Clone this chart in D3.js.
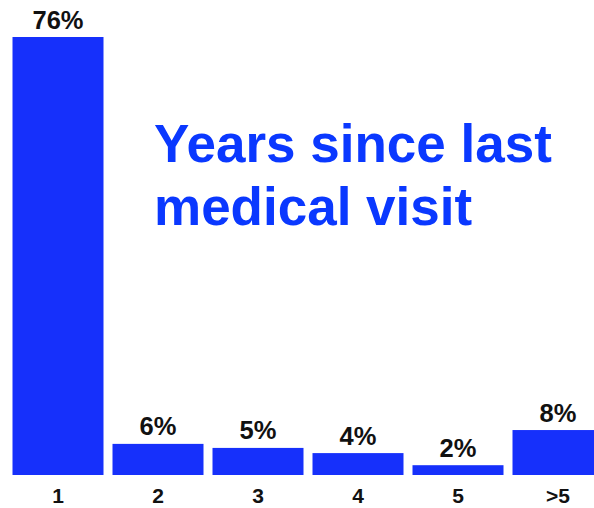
<!DOCTYPE html>
<html>
<head>
<meta charset="utf-8">
<script src="https://cdn.jsdelivr.net/npm/d3@7"></script>
<style>
  html, body { margin: 0; padding: 0; background: #fff; overflow: hidden; }
  svg { display: block; }
</style>
</head>
<body>
<svg id="chart" width="594" height="508"></svg>
<script>
const categories = ["1", "2", "3", "4", "5", ">5"];
const values = [76, 5.4, 4.7, 3.8, 1.7, 7.8];
const valueLabels = ["76%", "6%", "5%", "4%", "2%", "8%"];
const titleLines = ["Years since last", "medical visit"];

const svg = d3.select("#chart");
const font = "'Liberation Sans', Arial, Helvetica, sans-serif";

const x = d3.scaleBand()
  .domain(categories)
  .range([8, 608])
  .paddingInner(0.09)
  .paddingOuter(0.045);

const y = d3.scaleLinear()
  .domain([0, 76])
  .range([475, 37]);

const data = categories.map((c, i) => ({ c, v: values[i], label: valueLabels[i] }));

svg.selectAll("rect.bar")
  .data(data)
  .join("rect")
  .attr("class", "bar")
  .attr("x", d => x(d.c))
  .attr("width", x.bandwidth())
  .attr("y", d => y(d.v))
  .attr("height", d => y(0) - y(d.v))
  .attr("fill", "#1630fb");

svg.selectAll("text.val")
  .data(data)
  .join("text")
  .attr("class", "val")
  .attr("x", d => x(d.c) + x.bandwidth() / 2)
  .attr("y", d => y(d.v) - 8.5)
  .attr("text-anchor", "middle")
  .attr("font-family", font)
  .attr("font-weight", "bold")
  .attr("font-size", 25.5)
  .attr("fill", "#111")
  .text(d => d.label);

const xAxis = d3.axisBottom(x).tickSize(0).tickPadding(0);
const gx = svg.append("g")
  .attr("transform", "translate(0,488)")
  .call(xAxis);
gx.select(".domain").remove();
gx.selectAll("text")
  .attr("dy", 0)
  .attr("y", 15)
  .attr("font-family", font)
  .attr("font-weight", "bold")
  .attr("font-size", 21)
  .attr("fill", "#111");

svg.append("text")
  .attr("x", 154)
  .attr("font-family", font)
  .attr("font-weight", "bold")
  .attr("font-size", 53)
  .attr("fill", "#0a38ff")
  .selectAll("tspan")
  .data(titleLines)
  .join("tspan")
  .attr("x", 154)
  .attr("y", (d, i) => 162 + i * 63)
  .text(d => d);
</script>
</body>
</html>
